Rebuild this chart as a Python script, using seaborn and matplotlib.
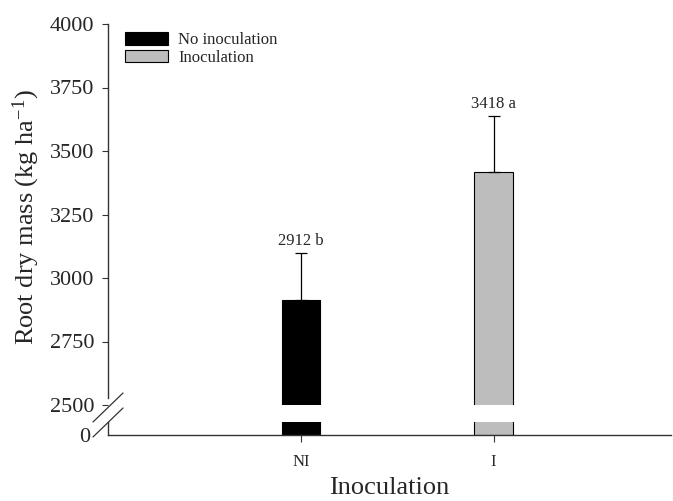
import matplotlib
matplotlib.use("Agg")
import matplotlib.pyplot as plt
from matplotlib.patches import Patch
from matplotlib.lines import Line2D
import seaborn as sns
import pandas as pd

treatments = ["NI", "I"]
legend_names = ["No inoculation", "Inoculation"]
root_mass = [2912, 3418]
upper_err = [185, 220]
letters = ["b", "a"]
bar_colors = ["#000000", "#bdbdbd"]

df = pd.DataFrame({"treat": treatments, "mass": root_mass})

sns.set_style("white")
plt.rcParams["font.family"] = ["Liberation Serif", "DejaVu Serif"]
plt.rcParams["mathtext.fontset"] = "custom"
plt.rcParams["mathtext.rm"] = "Liberation Serif"

W, H = 673, 501
fig = plt.figure(figsize=(W / 100, H / 100), dpi=100)

x0, x1 = 108, 671
ax = fig.add_axes([x0 / W, 1 - 405 / H, (x1 - x0) / W, (405 - 24) / H])
axb = fig.add_axes([x0 / W, 1 - 435 / H, (x1 - x0) / W, (435 - 422) / H])

for a in (ax, axb):
    sns.barplot(data=df, x="treat", y="mass", hue="treat", palette=bar_colors,
                width=0.2, edgecolor="black", linewidth=0.8, legend=False, ax=a)
    a.set_xlim(-1.0, 1.92)
    a.set_xlabel("")
    a.set_ylabel("")
    a.spines["top"].set_visible(False)
    a.spines["right"].set_visible(False)
    for s in ("left", "bottom"):
        a.spines[s].set_color("#333333")
        a.spines[s].set_linewidth(1.0)

# upper part
ax.set_ylim(2500, 4000)
ax.set_yticks([2500, 2750, 3000, 3250, 3500, 3750, 4000])
ax.spines["bottom"].set_visible(False)
ax.spines["left"].set_bounds(2528, 4000)
ax.tick_params(axis="y", direction="out", length=4, width=0.8, color="#333333",
               labelsize=16, pad=6, left=True)
ax.tick_params(axis="x", bottom=False, labelbottom=False)
ax.errorbar(range(len(treatments)), root_mass, yerr=[[0] * len(upper_err), upper_err],
            fmt="none", ecolor="black", elinewidth=0.9, capsize=4.5, capthick=0.9)
for i, (v, e, l) in enumerate(zip(root_mass, upper_err, letters)):
    ax.annotate(f"{v} {l}", (i, v + e), xytext=(0, 3), textcoords="offset points",
                ha="center", va="bottom", fontsize=12)

# lower part
axb.set_ylim(0, 10)
axb.set_yticks([0])
axb.tick_params(axis="y", direction="out", length=0, labelsize=16, pad=13, left=True)
axb.tick_params(axis="x", direction="out", length=5, width=0.8, color="#333333",
                labelsize=12, pad=9, bottom=True)

fig.text(26 / W, 1 - 217 / H, "Root dry mass (kg ha$\\mathregular{^{-1}}$)",
         rotation=90, ha="center", va="center", fontsize=19)
fig.text((x0 + x1) / 2 / W, 1 - 494 / H, "Inoculation",
         ha="center", va="baseline", fontsize=19)

# break marks on y axis
for py in (0, 15):
    fig.add_artist(Line2D([93 / W, 123 / W], [1 - (422 + py) / H, 1 - (393 + py) / H],
                          color="#333333", linewidth=0.9))

handles = [Patch(facecolor=c, edgecolor="black", linewidth=0.8) for c in bar_colors]
ax.legend(handles, legend_names, loc="upper left", bbox_to_anchor=(0.018, 0.997),
          frameon=False, fontsize=12, handlelength=2.6, handleheight=0.8,
          handletextpad=0.6, labelspacing=0.1, borderaxespad=0)

fig.savefig("out.png", dpi=100)
